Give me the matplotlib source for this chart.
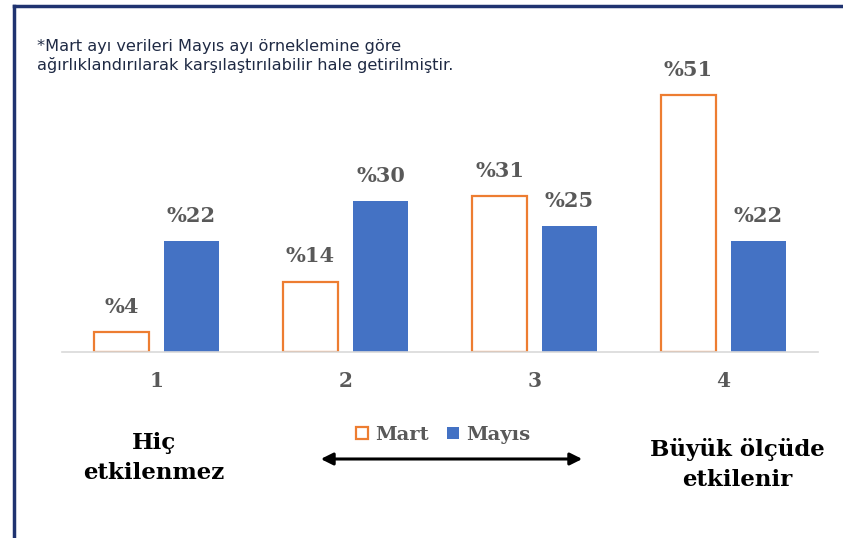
import numpy as np
import matplotlib.pyplot as plt
from matplotlib.patches import FancyArrowPatch

categories = ["1", "2", "3", "4"]
mart = [4, 14, 31, 51]
mayis = [22, 30, 25, 22]

orange = "#ED7D31"
blue = "#4472C4"
navy = "#1F3370"
gray = "#595959"
serif = ["DejaVu Serif"]

fig = plt.figure(figsize=(8.43, 5.38), dpi=100)
ax = fig.add_axes([62 / 843, 1 - 352 / 538, 756 / 843, 302 / 538])

x = np.arange(len(categories))
w = 0.29
off = 0.185
b1 = ax.bar(x - off, mart, w, facecolor="white", edgecolor=orange, linewidth=1.6, label="Mart")
b2 = ax.bar(x + off, mayis, w, color=blue, label="Mayıs")

for rect, v in list(zip(b1, mart)) + list(zip(b2, mayis)):
    ax.text(rect.get_x() + rect.get_width() / 2, v + 3.0, "%" + str(v),
            ha="center", va="bottom", fontsize=15, fontweight="bold",
            color=gray, family=serif)

ax.set_xlim(-0.5, 3.5)
ax.set_ylim(0, 60)
ax.set_yticks([])
ax.set_xticks(x)
ax.set_xticklabels(categories, fontsize=14.5, fontweight="bold", color=gray, family=serif)
ax.tick_params(axis="x", length=0, pad=14)
for s in ["top", "right", "left"]:
    ax.spines[s].set_visible(False)
ax.spines["bottom"].set_color("#D9D9D9")
ax.spines["bottom"].set_linewidth(1.2)

leg = fig.legend(handles=[b1, b2], loc="center", bbox_to_anchor=(443 / 843, 1 - 435 / 538),
                 ncol=2, frameon=False, handlelength=0.62, handleheight=0.62,
                 handletextpad=0.4, columnspacing=0.9,
                 prop={"family": serif, "size": 14, "weight": "bold"})
for t in leg.get_texts():
    t.set_color(gray)

fig.text(154 / 843, 1 - 458 / 538, "Hiç\netkilenmez", ha="center", va="center",
         fontsize=16.5, fontweight="bold", family=serif, linespacing=1.45)
fig.text(737 / 843, 1 - 464.5 / 538, "Büyük ölçüde\netkilenir", ha="center", va="center",
         fontsize=16.5, fontweight="bold", family=serif, linespacing=1.45)

fig.text(37 / 843, 1 - 56 / 538,
         "*Mart ayı verileri Mayıs ayı örneklemine göre\nağırlıklandırılarak karşılaştırılabilir hale getirilmiştir.",
         ha="left", va="center", fontsize=11.6, color="#1F2A44", linespacing=1.25,
         family="DejaVu Sans")

fig.patches.append(FancyArrowPatch(
    (318 / 843, 1 - 459 / 538), (585 / 843, 1 - 459 / 538), transform=fig.transFigure,
    arrowstyle="<|-|>", mutation_scale=18, color="black", linewidth=2.2))

# border on top and left
fig.add_artist(plt.Line2D([13.5 / 843, 1], [1 - 6 / 538, 1 - 6 / 538], color=navy, linewidth=2.5))
fig.add_artist(plt.Line2D([13.5 / 843, 13.5 / 843], [0, 1 - 6 / 538], color=navy, linewidth=2.5))

plt.savefig("out.png", dpi=100)
